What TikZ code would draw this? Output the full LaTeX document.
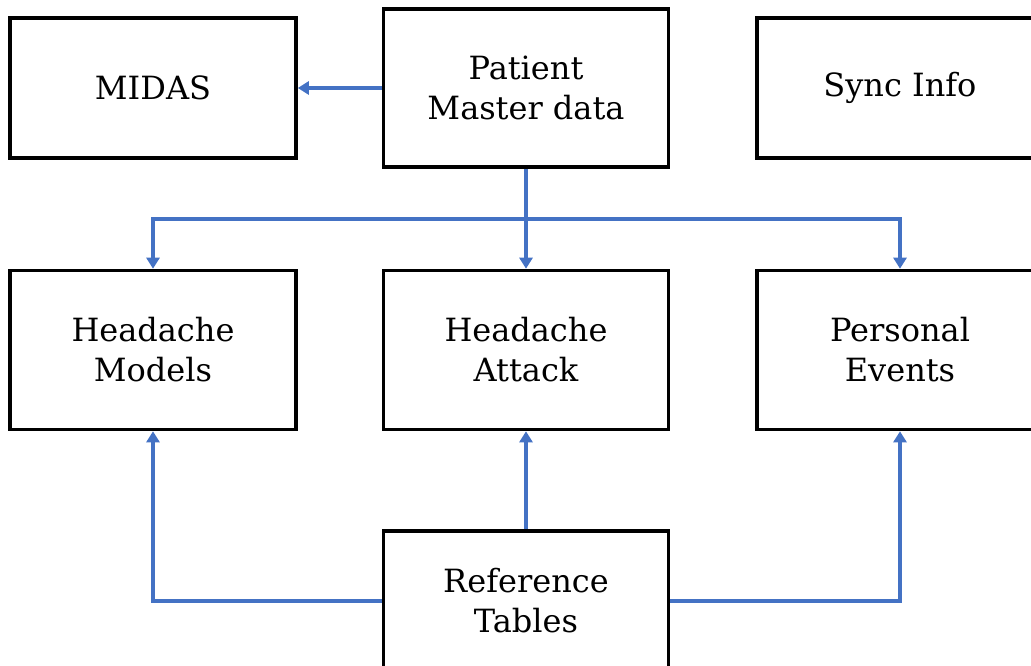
\documentclass[tikz,border=0pt]{standalone}
\usepackage{fontspec}
\setmainfont{DejaVu Serif}
\usetikzlibrary{arrows.meta}
\definecolor{linkblue}{HTML}{4472C4}
\tikzset{
  entity/.style={draw=black, line width=3.6pt, fill=white, align=center,
    font=\fontsize{32}{40}\selectfont, inner sep=0pt},
  link/.style={draw=linkblue, line width=3.4pt,
    -{Triangle[width=13pt,length=11pt]}},
}
\begin{document}
\begin{tikzpicture}[x=1pt,y=-1pt]
  \useasboundingbox (0,0) rectangle (1031,665);
  \begin{scope}
    \clip (0,0) rectangle (1031,665);
    % entity boxes
    \node[entity, minimum width=286pt, minimum height=140pt] (midas) at (153,88) {MIDAS};
    \node[entity, minimum width=285pt, minimum height=158pt] (patient) at (526,88) {Patient\\Master data};
    \node[entity, minimum width=286pt, minimum height=140pt] (sync) at (900,88) {Sync Info};
    \node[entity, minimum width=286pt, minimum height=159pt] (models) at (153,350) {Headache\\Models};
    \node[entity, minimum width=285pt, minimum height=159pt] (attack) at (526,350) {Headache\\Attack};
    \node[entity, minimum width=286pt, minimum height=159pt] (events) at (900,350) {Personal\\Events};
    \node[entity, minimum width=285pt, minimum height=140pt] (reftab) at (526,601) {Reference\\Tables};
    % branch point below the master data
    \coordinate (fork) at (526,219);
    % connectors
    \draw[link] (patient.west) -- (midas.east);
    \draw[link] (patient.south) -- (attack.north);
    \draw[link] (fork) -| (models.north);
    \draw[link] (fork) -| (events.north);
    \draw[link] (reftab.north) -- (attack.south);
    \draw[link] (reftab.west) -| (models.south);
    \draw[link] (reftab.east) -| (events.south);
  \end{scope}
\end{tikzpicture}
\end{document}
